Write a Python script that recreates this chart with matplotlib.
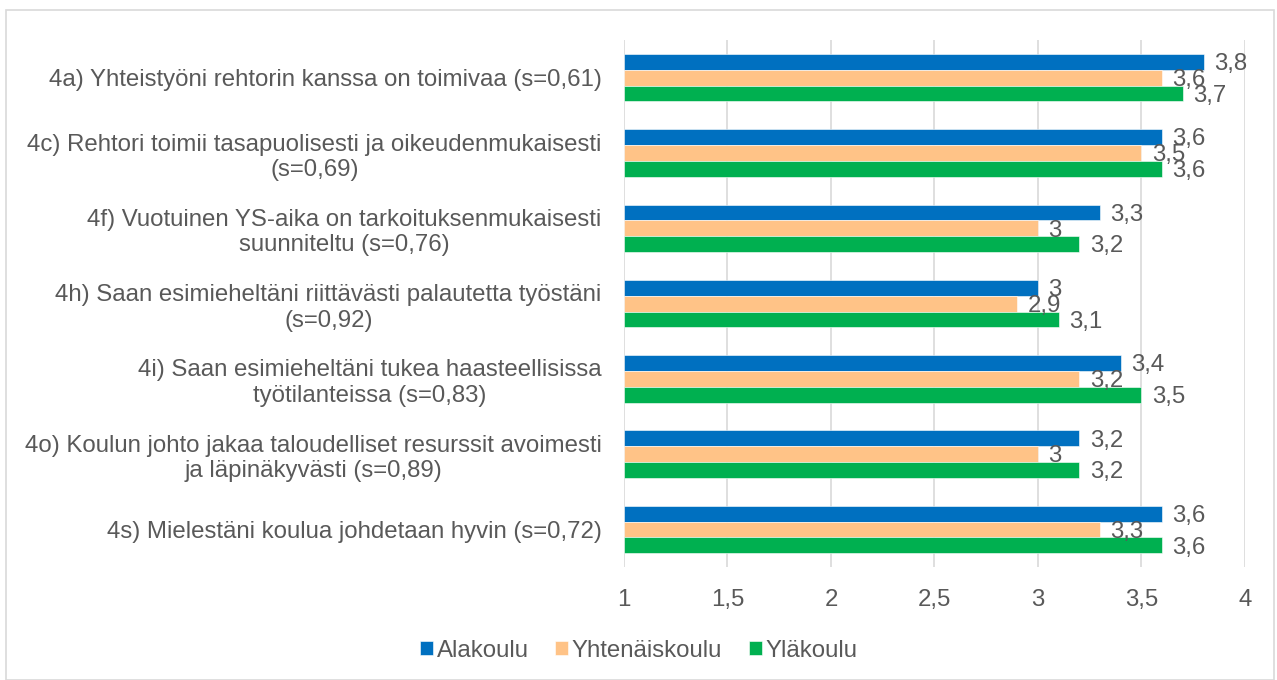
import matplotlib.pyplot as plt
import numpy as np
from matplotlib.patches import Rectangle

plt.rcParams['font.family'] = ['Liberation Sans', 'DejaVu Sans']

categories = [
    "4a) Yhteistyöni rehtorin kanssa on toimivaa (s=0,61)",
    "4c) Rehtori toimii tasapuolisesti ja oikeudenmukaisesti\n(s=0,69)",
    "4f) Vuotuinen YS-aika on tarkoituksenmukaisesti\nsuunniteltu (s=0,76)",
    "4h) Saan esimieheltäni riittävästi palautetta työstäni\n(s=0,92)",
    "4i) Saan esimieheltäni tukea haasteellisissa\ntyötilanteissa (s=0,83)",
    "4o) Koulun johto jakaa taloudelliset resurssit avoimesti\nja läpinäkyvästi (s=0,89)",
    "4s) Mielestäni koulua johdetaan hyvin (s=0,72)",
]
alakoulu = [3.8, 3.6, 3.3, 3.0, 3.4, 3.2, 3.6]
yhtenaiskoulu = [3.6, 3.5, 3.0, 2.9, 3.2, 3.0, 3.3]
ylakoulu = [3.7, 3.6, 3.2, 3.1, 3.5, 3.2, 3.6]
series = [("Alakoulu", alakoulu, "#0070C0"),
          ("Yhtenäiskoulu", yhtenaiskoulu, "#FFC387"),
          ("Yläkoulu", ylakoulu, "#00B050")]

txt = "#595959"
fs = 17.3
fig = plt.figure(figsize=(12.77, 6.8), dpi=100)
ax = fig.add_axes([0.4886, 0.166, 0.4863, 0.775])

y = np.arange(len(categories))
h = 0.21
for i, (name, vals, col) in enumerate(series):
    pos = y + (i - 1) * h
    ax.barh(pos, np.array(vals) - 1, left=1, height=h, color=col,
            edgecolor="white", linewidth=0.4, label=name)
    for p, v in zip(pos, vals):
        ax.text(v + 0.05, p + 0.03, f"{v:g}".replace(".", ","), va="center",
                ha="left", fontsize=fs, color=txt)

ax.set_xlim(1, 4)
ax.set_ylim(len(categories) - 0.5, -0.5)
ax.set_xticks(np.arange(1, 4.01, 0.5))
ax.set_xticklabels([f"{t:g}".replace(".", ",") for t in np.arange(1, 4.01, 0.5)])
ax.set_yticks(y)
ax.set_yticklabels(categories, ha="right", multialignment="center")
ax.tick_params(axis="y", length=0, pad=16, labelsize=fs, labelcolor=txt)
ax.tick_params(axis="x", length=0, pad=16, labelsize=fs, labelcolor=txt)
ax.xaxis.grid(True, color="#D9D9D9", linewidth=1.2)
ax.set_axisbelow(True)
for s in ax.spines.values():
    s.set_visible(False)

ax.legend(loc="center", bbox_to_anchor=(0.5, 0.043),
          bbox_transform=fig.transFigure, ncol=3, frameon=False,
          fontsize=fs, labelcolor=txt, handlelength=0.55, handleheight=0.55,
          handletextpad=0.15, columnspacing=1.1)

fig.patches.append(Rectangle((0.005, 0.0), 0.993, 0.985, transform=fig.transFigure,
                             fill=False, edgecolor="#D9D9D9", linewidth=1.2))
fig.savefig("out.png", dpi=100)
